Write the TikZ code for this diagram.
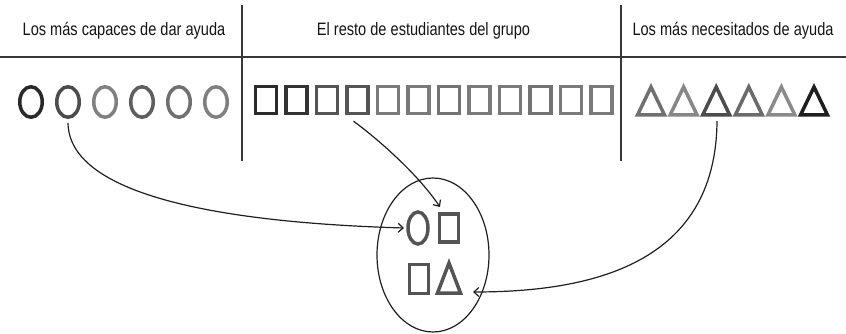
\documentclass[tikz,border=0pt]{standalone}
\usepackage{fontspec}
\setmainfont{Liberation Sans}
\usetikzlibrary{shapes.geometric,arrows.meta,calc}
\begin{document}
\begin{tikzpicture}[x=1pt,y=-1pt,
  grid/.style={draw=black!78,line width=1.4pt},
  head/.style={font=\fontsize{18}{21}\selectfont,xscale=0.81,anchor=base,inner sep=0pt,text=black!92},
  circ/.style={draw=#1,ellipse,line width=3.5pt,minimum width=22.5pt,minimum height=30.5pt,inner sep=0pt},
  sq/.style={draw=#1,rectangle,line width=3.5pt,minimum width=21pt,minimum height=27pt,inner sep=0pt},
  tri/.style={draw=#1,line width=3.5pt,line join=miter},
  conn/.style={draw=black!88,line width=1.2pt,-{Straight Barb[length=5pt,width=9pt,line width=1.2pt]}},
]
\useasboundingbox (0,0) rectangle (846,334);
% grid
\coordinate (hl) at (0,57); \coordinate (hr) at (846,57);
\coordinate (v1t) at (242,5); \coordinate (v1b) at (242,161);
\coordinate (v2t) at (621,5); \coordinate (v2b) at (621,161);
\draw[grid] (hl) -- (hr);
\draw[grid] (v1t) -- (v1b);
\draw[grid] (v2t) -- (v2b);
% headers
\node[head] (h1) at (124,35.5) {Los más capaces de dar ayuda};
\node[head] (h2) at (423.5,35.5) {El resto de estudiantes del grupo};
\node[head] (h3) at (733,35.5) {Los más necesitados de ayuda};
% circles
\foreach \i/\c in {0/black!84,1/black!70,2/black!50,3/black!63,4/black!56,5/black!50}{
  \node[circ=\c] (c\i) at ({31+37*\i},102) {};
}
% squares
\foreach \i/\c in {0/black!83,1/black!80,2/black!67,3/black!67,4/black!52,5/black!52,6/black!55,7/black!52,8/black!52,9/black!55,10/black!52,11/black!52}{
  \node[sq=\c] (s\i) at ({266+30.5*\i},100) {};
}
% triangles
\foreach \i/\c in {0/black!56,1/black!47,2/black!70,3/black!58,4/black!46,5/black!88}{
  \coordinate (t\i) at ({651+32.6*\i},101);
  \draw[tri=\c] ($(t\i)+(-13.5,14)$) -- ($(t\i)+(0,-14)$) -- ($(t\i)+(13.5,14)$) -- cycle;
}
% group ellipse
\node[draw=black!88,ellipse,line width=1.2pt,minimum width=112pt,minimum height=154pt,inner sep=0pt] (grp) at (433,255) {};
\node[circ=black!67,minimum width=20pt,minimum height=32pt] (ic) at (418,228) {};
\node[sq=black!67,minimum width=19pt,minimum height=28pt] (isq) at (449,228) {};
\node[sq=black!67,minimum width=19pt,minimum height=29pt] (isq2) at (419,279) {};
\coordinate (it) at (449,278);
\draw[tri=black!67] ($(it)+(-11.5,15)$) -- ($(it)+(0,-15)$) -- ($(it)+(11.5,15)$) -- cycle;
% connectors
\coordinate (e1) at (404,228);
\coordinate (e2) at (440,207);
\coordinate (e3) at (473,292);
\coordinate (st3) at (717,121);
\draw[conn] (c1.south) ++(0,4) .. controls (69,190) and (200,222) .. (e1);
\draw[conn] (s3.south) ++(-4,6) .. controls (370,133) and (415,170) .. (e2);
\draw[conn] (st3) .. controls (716,265) and (590,292) .. (e3);
\end{tikzpicture}
\end{document}
